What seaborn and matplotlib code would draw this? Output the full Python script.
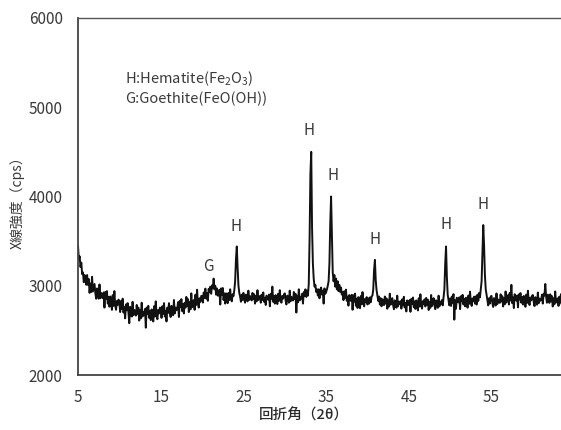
import numpy as np
import pandas as pd
import matplotlib
matplotlib.use("Agg")
import matplotlib.pyplot as plt
import seaborn as sns

# ---- data ----
two_theta_start = 5.0
two_theta_step = 0.1
intensity = [
    3450,3300,3330,3210,3260,3130,3150,3040,3120,3060,
    3010,3120,3010,3075,2920,3025,2930,3100,2935,2975,
    3020,2915,2855,2970,2935,2855,3015,2860,2920,2880,
    2860,2925,2755,2930,2855,2940,2800,2875,2765,2880,
    2845,2730,2895,2775,2940,2780,2730,2830,2785,2845,
    2815,2705,2830,2740,2855,2700,2760,2635,2790,2725,
    2805,2700,2580,2765,2735,2655,2820,2670,2730,2695,
    2665,2785,2685,2755,2610,2725,2635,2810,2655,2705,
    2670,2740,2530,2755,2685,2775,2640,2720,2615,2735,
    2710,2600,2770,2655,2825,2670,2625,2730,2690,2755,
    2745,2640,2770,2685,2805,2655,2720,2600,2755,2695,
    2805,2705,2650,2775,2745,2670,2840,2690,2755,2725,
    2745,2815,2650,2830,2760,2850,2715,2795,2690,2810,
    2755,2875,2775,2850,2705,2820,2735,2915,2760,2810,
    2840,2730,2900,2785,2955,2800,2755,2860,2820,2885,
    2888,2812,2924,2864,2968,2856,2918,2832,2966,2928,
    2990,2910,3005,2970,3080,2960,3000,2900,2970,2890,
    2890,2955,2790,2970,2895,2975,2840,2915,2800,2915,
    2880,2805,2920,2840,2960,2850,2825,2905,2885,2950,
    3050,3300,3440,3200,3000,2920,2880,2820,2900,2840,
    2920,2850,2810,2900,2875,2825,2945,2840,2885,2865,
    2835,2920,2850,2905,2800,2885,2825,2950,2840,2875,
    2885,2810,2900,2840,2925,2820,2865,2785,2890,2850,
    2845,2900,2770,2910,2855,2990,2820,2885,2800,2895,
    2870,2795,2910,2830,2950,2840,2810,2885,2855,2900,
    2915,2835,2790,2890,2870,2810,2945,2825,2875,2850,
    2835,2930,2850,2910,2700,2885,2815,2960,2835,2875,
    2855,2910,2800,2930,2885,2960,2875,2945,2890,3020,
    3520,4250,4500,3650,3250,3080,2990,3010,2930,2960,
    2890,2960,2860,2950,2980,2900,2940,2800,2970,2910,
    2930,2960,3000,3050,3250,3700,4000,3600,3150,3050,
    3120,2990,3080,2960,3050,2940,3010,2930,2980,2900,
    2928,2839,2938,2865,2956,2831,2878,2777,2896,2843,
    2830,2898,2731,2894,2822,2912,2776,2854,2751,2873,
    2837,2749,2885,2793,2929,2805,2769,2853,2821,2873,
    2790,2860,2800,2870,2815,2880,2890,2960,3180,3290,
    3060,2950,2890,2830,2880,2790,2860,2770,2850,2800,
    2783,2879,2799,2859,2743,2835,2767,2911,2787,2827,
    2861,2781,2737,2837,2813,2753,2889,2769,2821,2797,
    2828,2744,2848,2780,2876,2756,2808,2712,2836,2788,
    2784,2840,2708,2852,2796,2868,2760,2824,2740,2836,
    2812,2724,2860,2768,2904,2780,2744,2828,2796,2848,
    2768,2864,2784,2844,2728,2820,2752,2896,2772,2812,
    2861,2781,2737,2837,2813,2753,2889,2769,2821,2797,
    2840,2780,2870,2960,3250,3440,3100,2900,2840,2780,
    2858,2774,2878,2810,2906,2620,2838,2742,2866,2818,
    2814,2870,2738,2882,2826,2898,2790,2854,2770,2866,
    2842,2754,2890,2798,2934,2810,2774,2858,2826,2878,
    2800,2880,2790,2900,2830,2920,2870,2960,3050,3350,
    3680,3450,3120,2960,2900,2840,2780,2860,2800,2880,
    2886,2806,2762,2862,2838,2778,2914,2794,2846,2822,
    2808,2904,2824,2884,2768,2860,2792,2936,2812,2852,
    2895,2790,2920,2835,3010,2805,2870,2750,2905,2845,
    2834,2890,2758,2902,2846,2918,2810,2874,2790,2886,
    2852,2764,2900,2808,2944,2820,2784,2868,2836,2888,
    2896,2816,2772,2872,2848,2788,2924,2804,2856,2832,
    2840,2900,2800,2910,2890,3020,2880,2810,2900,2830,
    2808,2904,2824,2884,2768,2860,2792,2936,2812,2852,
    2858,2774,2878,2810,2906,2786,2838,2742,2866,2818,
]

peak_labels = ["G", "H", "H", "H", "H", "H", "H"]
peak_label_x = [20.8, 24.1, 32.95, 35.8, 40.9, 49.5, 54.0]
peak_label_y = [3215, 3665, 4745, 4240, 3515, 3690, 3915]

legend_lines = [r"H:Hematite(Fe$_2$O$_3$)", "G:Goethite(FeO(OH))"]

x_ticks = [5, 15, 25, 35, 45, 55]
y_ticks = [2000, 3000, 4000, 5000, 6000]

x_label = "回折角（2θ）"
y_label = "X線強度（cps）"

# ---- plot ----
sns.set_style("white")
plt.rcParams["font.family"] = ["Noto Sans CJK JP", "DejaVu Sans"]
plt.rcParams["mathtext.default"] = "regular"

df = pd.DataFrame({
    "two_theta": two_theta_start + two_theta_step * np.arange(len(intensity)),
    "intensity": intensity,
})

fig = plt.figure(figsize=(5.61, 4.30), dpi=100)
ax = fig.add_axes([78 / 561, 1 - 375 / 430, 1 - 78 / 561, (375 - 18) / 430])

sns.lineplot(data=df, x="two_theta", y="intensity", ax=ax,
             color="#111111", linewidth=1.4)

ax.set_xlim(5, 63.4)
ax.set_ylim(2000, 6000)
ax.set_xticks(x_ticks)
ax.set_yticks(y_ticks)

text_color = "#3a3a3a"
ax.tick_params(axis="both", length=0, labelsize=11, colors=text_color)
ax.tick_params(axis="x", pad=10)
ax.tick_params(axis="y", pad=11)

ax.set_xlabel("")
ax.set_ylabel("")
fig.text(304 / 561, 1 - 415 / 430, x_label, ha="center", va="center",
         fontsize=10.5, fontweight="medium", color="#2a2a2a")
fig.text(17 / 561, 1 - 199 / 430, y_label, ha="center", va="center",
         rotation=90, fontsize=10, color=text_color)

for s in ["left", "bottom"]:
    ax.spines[s].set_color("#444444")
    ax.spines[s].set_linewidth(1.3)
ax.spines["top"].set_color("#555555")
ax.spines["top"].set_linewidth(1.0)
ax.spines["right"].set_visible(False)

for lab, px, py in zip(peak_labels, peak_label_x, peak_label_y):
    ax.text(px, py, lab, ha="center", va="center", fontsize=11, color=text_color)

ax.text(10.7, 5320, legend_lines[0], ha="left", va="center", fontsize=10.5, color=text_color)
ax.text(10.7, 5090, legend_lines[1], ha="left", va="center", fontsize=10.5, color=text_color)

fig.savefig("out.png", dpi=100)
